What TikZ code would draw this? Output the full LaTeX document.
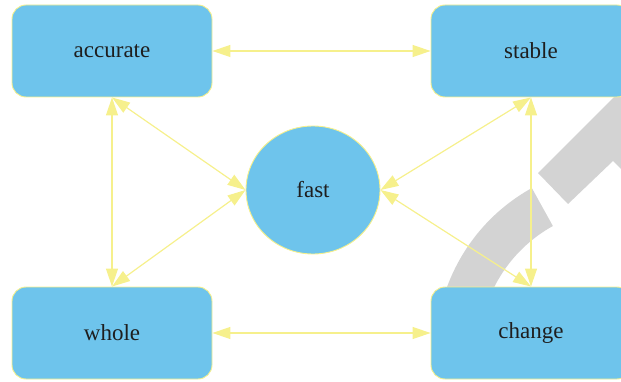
\documentclass[tikz,border=0pt]{standalone}
\usepackage{fontspec}
\setmainfont{Liberation Serif}
\usetikzlibrary{arrows.meta,shapes.geometric}
\definecolor{skyfill}{HTML}{6EC4EC}
\definecolor{paleyellow}{HTML}{F6F08C}
\definecolor{inkgray}{HTML}{1E1E1E}
\definecolor{markgray}{HTML}{D3D3D3}

\begin{document}
\begin{tikzpicture}[
  x=1pt, y=-1pt,
  font=\fontsize{23}{27}\selectfont,
  box/.style={draw=paleyellow, fill=skyfill, rounded corners=14pt, minimum width=200pt, minimum height=92pt, text=inkgray, line width=0.9pt},
  hub/.style={ellipse, draw=paleyellow, fill=skyfill, minimum width=134pt, minimum height=128pt, inner sep=0pt, text=inkgray, line width=0.9pt},
  link/.style={{Triangle[length=18pt,width=12pt]}-{Triangle[length=18pt,width=12pt]}, draw=paleyellow, line width=1.2pt},
  cyclesign/.style={fill=markgray}
]
\useasboundingbox (0,0) rectangle (621,382);
\clip (0,0) rectangle (621,382);

% grey cycle sign behind the right column
\begin{scope}
  \clip (0,0) rectangle (621,376);
  \fill[cyclesign] ([shift={(622.5,351.6)}]160:187) arc[start angle=160, end angle=241, radius=187]
    -- ([shift={(622.5,351.6)}]241:143.6) arc[start angle=241, end angle=160, radius=143.6] -- cycle;
  \fill[cyclesign] (538,173) -- (568,204) -- (613,161) -- (645,193) -- (700,120) -- (680,31) -- cycle;
\end{scope}

\node[box] (accurate) at (112,51) {accurate};
\node[box] (stable) at (531,51) {stable};
\node[box] (whole) at (112,333) {whole};
\node[box] (change) at (531,333) {change};
\node[hub] (fast) at (313,190) {fast};

\draw[link] (accurate.east) -- (stable.west);
\draw[link] (whole.east) -- (change.west);
\draw[link] (accurate.south) -- (whole.north);
\draw[link] (stable.south) -- (change.north);
\draw[link] (accurate.south) -- (fast.west);
\draw[link] (whole.north) -- (fast.west);
\draw[link] (stable.south) -- (fast.east);
\draw[link] (change.north) -- (fast.east);
\end{tikzpicture}
\end{document}
